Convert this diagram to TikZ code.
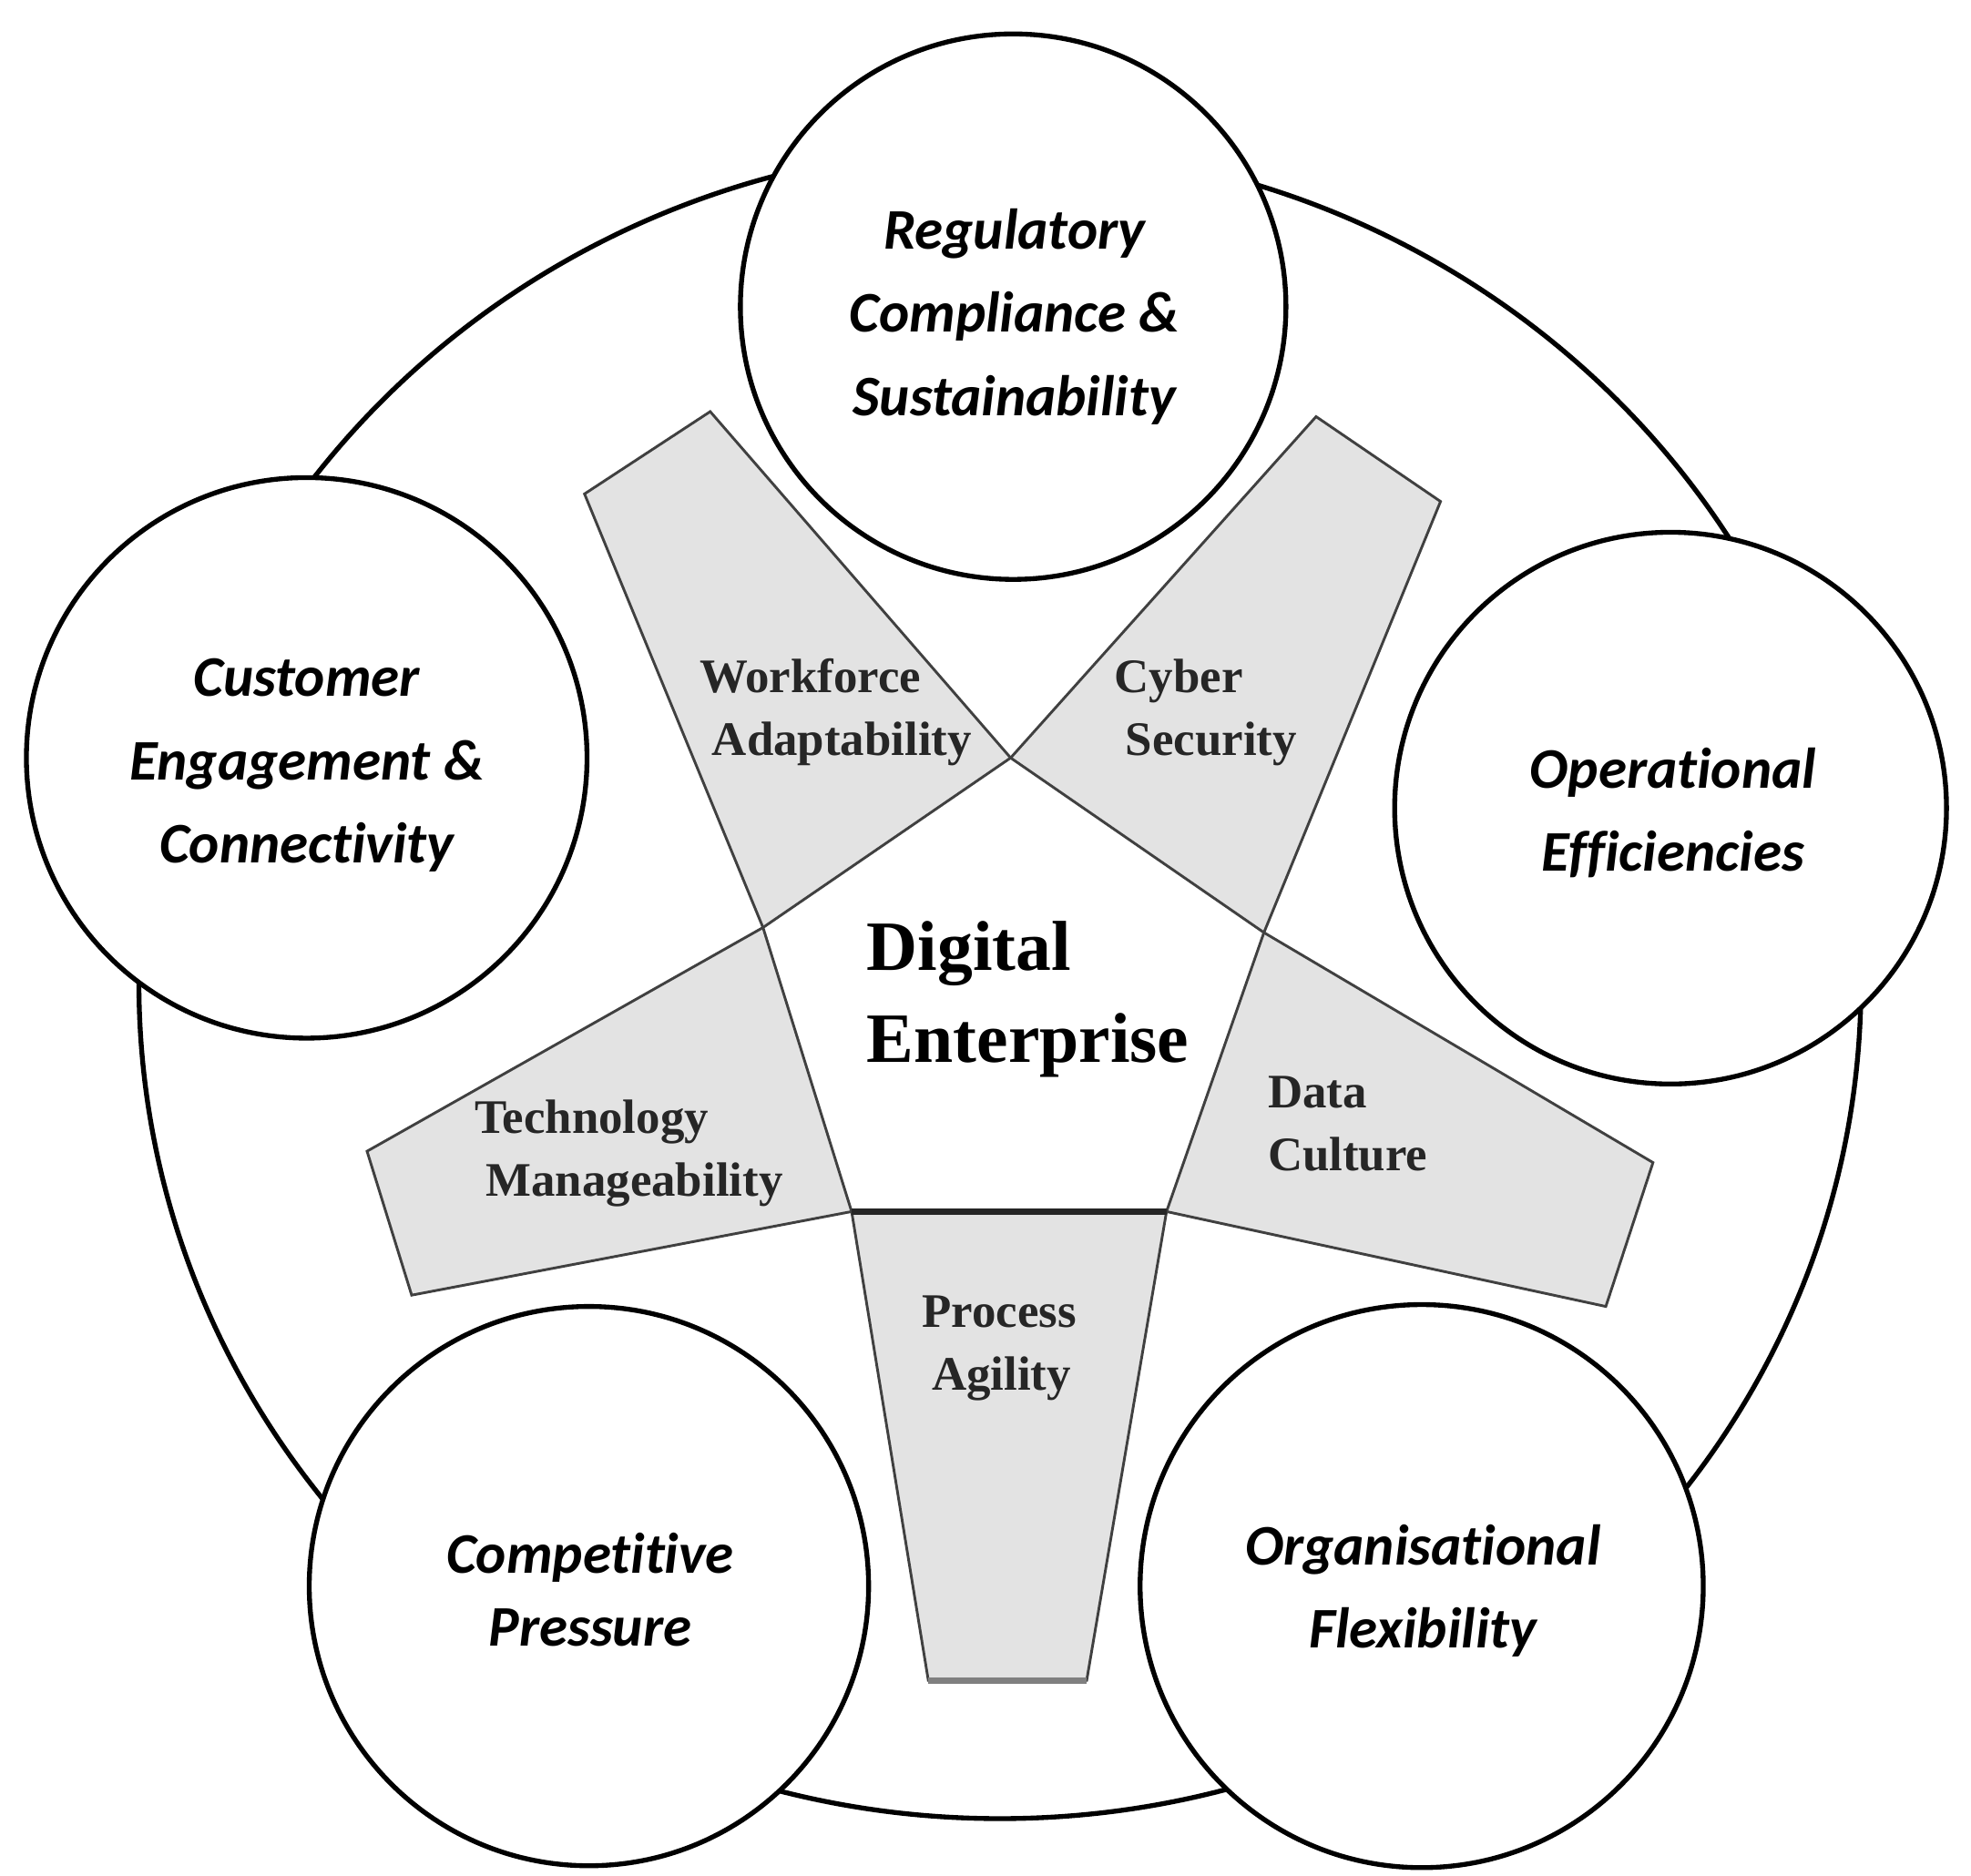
\documentclass[tikz,border=0pt]{standalone}
\usepackage{fontspec}
\setmainfont{Liberation Serif}
\newfontfamily\calibrifont[Ligatures=NoCommon]{Carlito}
\usetikzlibrary{calc}

\begin{document}
\begin{tikzpicture}[x=0.1mm, y=-0.1mm,
  factor/.style={circle, draw, line width=1.1pt, fill=white, inner sep=0pt},
  factorlabel/.style={align=center, inner sep=0pt,
    font=\calibrifont\bfseries\itshape\fontsize{13}{18.8}\selectfont},
  armlabel/.style={anchor=west, align=left, inner sep=0pt, text=black!85,
    font=\bfseries\fontsize{10.9}{14.2}\selectfont},
  armedge/.style={draw=black!75, line width=0.6pt}]
\useasboundingbox (0,0) rectangle (1568,1492);

% outer ring
\draw[line width=1.1pt] (795.5,782) ellipse [x radius=68.5mm, y radius=66.5mm];

% the five driving factors
\node[factor, minimum size=43.4mm] (reg)  at (806,244)    {};
\node[factor, minimum size=44.6mm] (cust) at (244,603)    {};
\node[factor, minimum size=43.9mm] (oper) at (1329,643)   {};
\node[factor, minimum size=44.5mm] (comp) at (468.5,1262) {};
\node[factor, minimum size=44.8mm] (org)  at (1131,1262)  {};

\node[factorlabel] (regtext)  at (807,252)    {Regulatory\\Compliance \&\\Sustainability};
\node[factorlabel] (custtext) at (244,609)    {Customer\\Engagement \&\\Connectivity};
\node[factorlabel] (opertext) at (1331,647)   {Operational\\Efficiencies};
\node[factorlabel, font=\calibrifont\bfseries\itshape\fontsize{13}{16.4}\selectfont]
  (comptext) at (469.5,1265) {Competitive\\Pressure};
\node[factorlabel] (orgtext)  at (1132,1266)  {Organisational\\Flexibility};

% star: central pentagon
\coordinate (pT)  at (804,603);
\coordinate (pR)  at (1005.5,742);
\coordinate (pBR) at (928,964);
\coordinate (pBL) at (677.5,964);
\coordinate (pL)  at (607,738);
% star: arm tips
\coordinate (cA) at (1047,331.5);
\coordinate (cB) at (1146,399);
\coordinate (dA) at (1315,925);
\coordinate (dB) at (1277.5,1039.5);
\coordinate (gA) at (864.5,1337);
\coordinate (gB) at (738.5,1337);
\coordinate (tA) at (327.5,1030.5);
\coordinate (tB) at (292,916);
\coordinate (wA) at (465,393);
\coordinate (wB) at (565,327.5);

\filldraw[armedge, fill=black!11]
  (pT) -- (cA) -- (cB) -- (pR) -- (dA) -- (dB) -- (pBR) -- (gA) -- (gB)
  -- (pBL) -- (tA) -- (tB) -- (pL) -- (wA) -- (wB) -- cycle;
\filldraw[armedge, fill=white] (pT) -- (pR) -- (pBR) -- (pBL) -- (pL) -- cycle;
\draw[line width=1.6pt, black!85] (pBL) -- (pBR);
\draw[line width=1.4pt, black!50] (gB) -- (gA);

% capability labels
\node[armlabel] (work)  at (556,567)   {Workforce\\\hspace*{2.8pt}Adaptability};
\node[armlabel] (cyber) at (886,567)   {Cyber\\\hspace*{2.5pt}Security};
\node[armlabel] (tech)  at (377,917.5) {Technology\\\hspace*{2.5pt}Manageability};
\node[armlabel] (data)  at (1008,894)  {Data\\Culture};
\node[armlabel] (proc)  at (733,1073)  {Process\\\hspace*{2.2pt}Agility};
\node[armlabel, text=black, font=\bfseries\fontsize{16}{20.7}\selectfont]
  (digital) at (689,795) {Digital\\Enterprise};
\end{tikzpicture}
\end{document}
